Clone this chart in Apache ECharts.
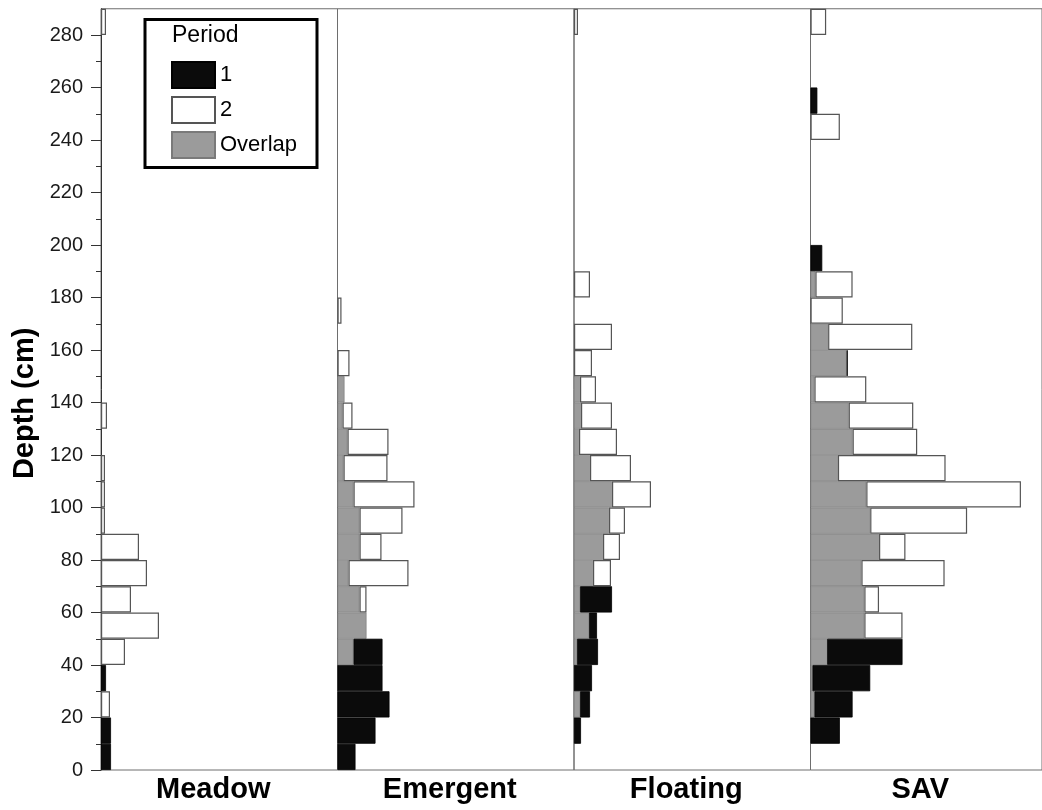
<!DOCTYPE html>
<html>
<head>
<meta charset="utf-8">
<script src="https://cdn.jsdelivr.net/npm/echarts@6/dist/echarts.min.js"></script>
<style>
html,body{margin:0;padding:0;background:#fff;}
#chart{width:1042px;height:810px;}
</style>
</head>
<body>
<div id="chart"></div>
<script>
// ---- data ----
const depthBins = ['0-10','10-20','20-30','30-40','40-50','50-60','60-70','70-80','80-90','90-100',
  '100-110','110-120','120-130','130-140','140-150','150-160','160-170','170-180','180-190','190-200',
  '200-210','210-220','220-230','230-240','240-250','250-260','260-270','270-280','280-290'];
const panelNames = ['Meadow', 'Emergent', 'Floating', 'SAV'];
const legendNames = ['1', '2', 'Overlap'];
const yTickLabels = [0, 20, 40, 60, 80, 100, 120, 140, 160, 180, 200, 220, 240, 260, 280];
const yMinorTicks = [10, 30, 50, 70, 90, 110, 130, 150, 170, 190, 210, 230, 250, 270];

// frequency per depth bin (bottom bin first), period 1 and period 2
const meadowP1   = [1.0,1.0,0,0.5,0,0,0,0,0,0,0,0,0,0,0,0,0,0,0,0,0,0,0,0,0,0,0,0,0];
const meadowP2   = [0,0,0.9,0,2.4,5.8,3.0,4.6,3.8,0.4,0.4,0.4,0,0.6,0,0,0,0,0,0,0,0,0,0,0,0,0,0,0.5];
const emergentP1 = [1.8,3.8,5.2,4.5,4.5,2.9,2.2,1.1,2.2,2.2,1.6,0.6,1.0,0.5,0.7,0,0,0,0,0,0,0,0,0,0,0,0,0,0];
const emergentP2 = [0,0,0,0,1.6,2.9,2.9,7.1,4.4,6.5,7.7,5.0,5.1,1.5,0.7,1.2,0,0.4,0,0,0,0,0,0,0,0,0,0,0];
const floatingP1 = [0,0.7,1.6,1.8,2.4,2.3,3.8,1.9,2.9,3.5,3.8,1.6,0.5,0.7,0.6,0,0,0,0,0,0,0,0,0,0,0,0,0,0];
const floatingP2 = [0,0,0.6,0,0.3,1.5,0.6,3.7,4.6,5.1,7.7,5.7,4.3,3.8,2.2,1.8,3.8,0,1.6,0,0,0,0,0,0,0,0,0,0.4];
const savP1      = [0,3.0,4.3,6.1,9.4,5.5,5.5,5.2,7.0,6.1,5.7,2.8,4.3,3.9,0.4,3.8,1.8,0,0.5,1.2,0,0,0,0,0,0.7,0,0,0];
const savP2      = [0,0,0.4,0.2,1.7,9.4,7.0,13.7,9.7,16.0,21.5,13.8,10.9,10.5,5.7,3.7,10.4,3.3,4.3,0,0,0,0,0,3.0,0,0,0,1.6];

const panelData = [
  [meadowP1, meadowP2],
  [emergentP1, emergentP2],
  [floatingP1, floatingP2],
  [savP1, savP2]
];

// ---- layout / style ----
const FONT = '"Liberation Sans", Arial, Helvetica, sans-serif';
const gridLefts = [101, 337.5, 574, 810.5];
const gridWidth = 236.5;
const gridTop = 8.75;
const gridHeight = 761.25;
const xMax = 23.65;

const colOverlap = '#9b9b9b';
const colP1 = '#0b0b0b';
const colP2 = '#ffffff';

function clean(v) { const r = Math.round(v * 100) / 100; return r > 0 ? r : '-'; }

const grids = [], xAxes = [], yAxes = [], series = [];

panelNames.forEach(function (name, i) {
  grids.push({
    left: gridLefts[i], top: gridTop, width: gridWidth, height: gridHeight,
    show: true, borderColor: '#6e6e6e', borderWidth: 1, backgroundColor: 'transparent'
  });
  xAxes.push({
    gridIndex: i, type: 'value', min: 0, max: xMax,
    axisLine: {show: false}, axisTick: {show: false}, axisLabel: {show: false}, splitLine: {show: false},
    name: name, nameLocation: 'middle', nameGap: 5,
    nameTextStyle: {fontSize: 29, fontWeight: 'bold', color: '#000', fontFamily: FONT, padding: [0, 12, 0, 0]}
  });
  yAxes.push({
    gridIndex: i, type: 'category', data: depthBins, position: 'left', show: false, boundaryGap: true
  });
  const p1 = panelData[i][0], p2 = panelData[i][1];
  const ov = p1.map(function (v, k) { return clean(Math.min(v, p2[k])); });
  const ex1 = p1.map(function (v, k) { return clean(v - Math.min(v, p2[k])); });
  const ex2 = p2.map(function (v, k) { return clean(v - Math.min(p1[k], v)); });
  const stack = 'st' + i;
  series.push({
    name: 'Overlap', type: 'bar', xAxisIndex: i, yAxisIndex: i, stack: stack, data: ov,
    barCategoryGap: '0%', itemStyle: {color: colOverlap, borderColor: '#7a7a7a', borderWidth: 0.6},
    emphasis: {disabled: true}, animation: false
  });
  series.push({
    name: '1', type: 'bar', xAxisIndex: i, yAxisIndex: i, stack: stack, data: ex1,
    barCategoryGap: '0%', itemStyle: {color: colP1, borderColor: '#000', borderWidth: 0.8},
    emphasis: {disabled: true}, animation: false
  });
  series.push({
    name: '2', type: 'bar', xAxisIndex: i, yAxisIndex: i, stack: stack, data: ex2,
    barCategoryGap: '0%', itemStyle: {color: colP2, borderColor: '#555', borderWidth: 1.2},
    emphasis: {disabled: true}, animation: false
  });
});

// labelled depth axis (major ticks) and minor tick axis, both in the first grid
yAxes.push({
  gridIndex: 0, type: 'value', min: 0, max: 290, position: 'left',
  axisLine: {show: true, lineStyle: {color: '#333', width: 1}},
  axisTick: {show: true, length: 10, customValues: yTickLabels, lineStyle: {color: '#333', width: 1}},
  axisLabel: {show: true, customValues: yTickLabels, margin: 18, fontSize: 20, color: '#1a1a1a', fontFamily: FONT},
  splitLine: {show: false},
  name: 'Depth (cm)', nameLocation: 'middle', nameRotate: 90, nameGap: 62,
  nameTextStyle: {fontSize: 29, fontWeight: 'bold', color: '#000', fontFamily: FONT, padding: [0, 28, 0, 0]}
});
yAxes.push({
  gridIndex: 0, type: 'value', min: 0, max: 290, position: 'left',
  axisLine: {show: false},
  axisTick: {show: true, length: 5, customValues: yMinorTicks, lineStyle: {color: '#333', width: 1}},
  axisLabel: {show: false}, splitLine: {show: false}
});

const chart = echarts.init(document.getElementById('chart'), null, {renderer: 'canvas'});
chart.setOption({
  backgroundColor: '#ffffff',
  animation: false,
  textStyle: {fontFamily: FONT},
  grid: grids,
  xAxis: xAxes,
  yAxis: yAxes,
  series: series,
  legend: {
    data: legendNames,
    orient: 'vertical',
    left: 171, top: 61,
    padding: 0,
    itemWidth: 43, itemHeight: 26, itemGap: 7,
    icon: 'rect',
    selectedMode: false,
    textStyle: {fontSize: 22, color: '#000', fontFamily: FONT}
  },
  graphic: [
    {type: 'rect', shape: {x: 145, y: 19.5, width: 172, height: 148},
     style: {fill: 'none', stroke: '#000', lineWidth: 3}, z: 10},
    {type: 'text', left: 172, top: 24,
     style: {text: 'Period', fontSize: 23, fill: '#000', fontFamily: FONT}, z: 10}
  ]
});
</script>
</body>
</html>
